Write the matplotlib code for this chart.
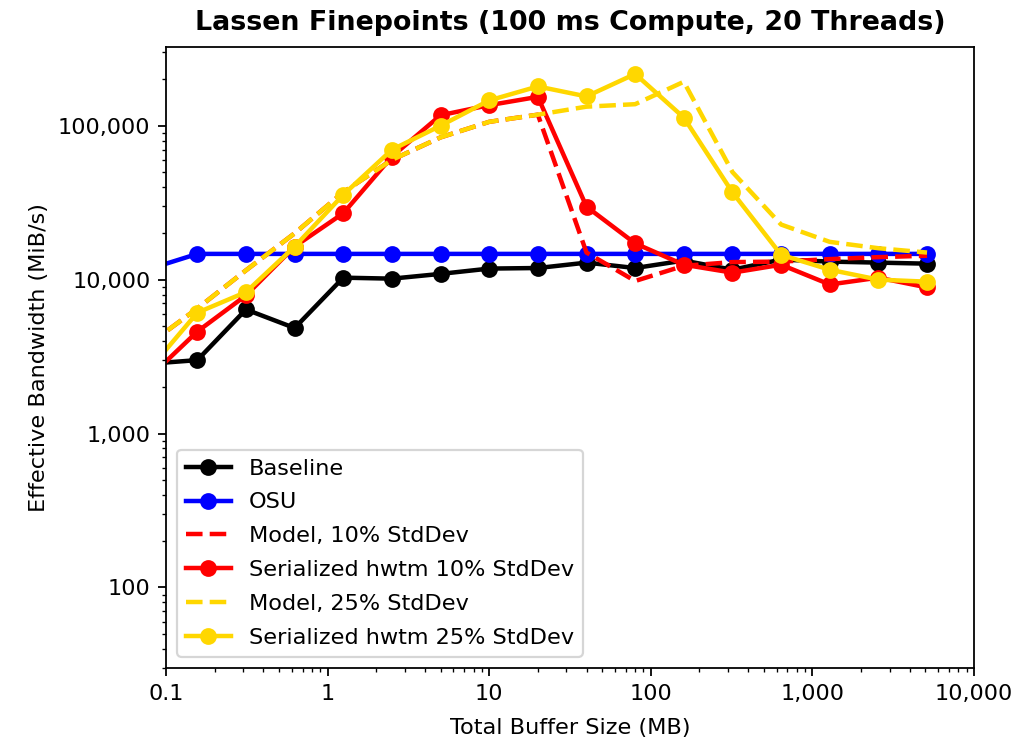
"""
график эффективной пропускной способности для Lassen Finepoints
"""
import matplotlib
matplotlib.use('Agg')
import matplotlib.pyplot as plt
from matplotlib.ticker import FuncFormatter

# размер буфера, МБ
buffer_mb = [0.078125, 0.15625, 0.3125, 0.625, 1.25, 2.5, 5, 10, 20,
             40, 80, 160, 320, 640, 1280, 2560, 5120]

# пропускная способность, MiB/s
baseline = [2840, 3000, 6400, 4850, 10300, 10150, 10900, 11800, 11900,
            12900, 11900, 13300, 11600, 13500, 13100, 12900, 12700]
osu = [11700, 14700, 14700, 14700, 14700, 14700, 14700, 14700, 14700,
       14700, 14700, 14700, 14700, 14700, 14700, 14700, 14700]
model_10 = [3800, 6500, 11500, 20000, 37000, 60000, 84000, 106000, 118000,
            15000, 9800, 12300, 13000, 13100, 13600, 14000, 14300]
hwtm_10 = [2300, 4600, 7900, 16400, 27000, 63000, 117000, 136000, 154000,
           29800, 17200, 12500, 11100, 12500, 9300, 10300, 8900]
model_25 = [3800, 6500, 11500, 20000, 37000, 60000, 84000, 106000, 118000,
            133000, 138000, 193000, 50000, 22800, 17600, 16000, 15000]
hwtm_25 = [2580, 6100, 8300, 16400, 35600, 69800, 100000, 146000, 180000,
           155000, 217000, 113000, 36900, 14500, 11600, 10000, 9700]

gold = '#FFD700'
dpi = 161

fig = plt.figure(figsize=(1033 / dpi, 738 / dpi), dpi=dpi)
ax = fig.add_axes([0.1607, 0.0949, 0.7822, 0.8415])

ax.plot(buffer_mb, baseline, color='black', marker='o', lw=2, ms=6.5, label='Baseline')
ax.plot(buffer_mb, osu, color='blue', marker='o', lw=2, ms=6.5, label='OSU')
ax.plot(buffer_mb, model_10, color='red', ls='--', lw=2, label='Model, 10% StdDev')
ax.plot(buffer_mb, hwtm_10, color='red', marker='o', lw=2, ms=6.5,
        label='Serialized hwtm 10% StdDev')
ax.plot(buffer_mb, model_25, color=gold, ls='--', lw=2, label='Model, 25% StdDev')
ax.plot(buffer_mb, hwtm_25, color=gold, marker='o', lw=2, ms=6.5,
        label='Serialized hwtm 25% StdDev')

ax.set_xscale('log')
ax.set_yscale('log')
ax.set_xlim(0.1, 10000)
ax.set_ylim(30, 325000)


def comma_fmt(val, _pos):
    # подписи вида 0.1, 1, 1,000
    if val < 1:
        return f'{val:g}'
    return f'{val:,.0f}'


ax.xaxis.set_major_formatter(FuncFormatter(comma_fmt))
ax.yaxis.set_major_formatter(FuncFormatter(comma_fmt))

ax.set_title('Lassen Finepoints (100 ms Compute, 20 Threads)', fontweight='bold', pad=7.5)
ax.set_xlabel('Total Buffer Size (MB)', labelpad=6.5)
ax.set_ylabel('Effective Bandwidth (MiB/s)')
ax.legend(loc='lower left', labelspacing=0.62)

plt.savefig('out.png', dpi=dpi)
